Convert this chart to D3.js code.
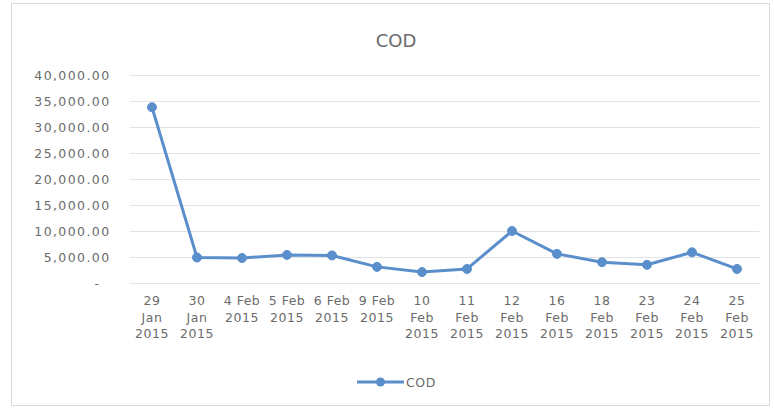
<!DOCTYPE html>
<html>
<head>
<meta charset="utf-8">
<script src="https://cdn.jsdelivr.net/npm/d3@7"></script>
<style>
  html, body { margin: 0; padding: 0; background: #fff; }
  svg { display: block; }
  text { font-family: "DejaVu Sans", sans-serif; fill: #6b6b6b; }
</style>
</head>
<body>
<svg id="chart" width="774" height="409"></svg>
<script>
// Daily COD readings
const categories = [
  "29 Jan 2015", "30 Jan 2015", "4 Feb 2015", "5 Feb 2015", "6 Feb 2015",
  "9 Feb 2015", "10 Feb 2015", "11 Feb 2015", "12 Feb 2015", "16 Feb 2015",
  "18 Feb 2015", "23 Feb 2015", "24 Feb 2015", "25 Feb 2015"
];
const codValues = [
  33800, 4900, 4800, 5400, 5300, 3100, 2100, 2700, 10000, 5600,
  4000, 3500, 5900, 2700
];
const yTicks = [0, 5000, 10000, 15000, 20000, 25000, 30000, 35000, 40000];
const seriesName = "COD";
const chartTitle = "COD";

const svg = d3.select("#chart");
const W = 774, H = 409;
const margin = { left: 129.5, right: 14.5, top: 75, bottom: 126 };
const blue = "#5A8FCC";

// chart frame
svg.append("rect")
  .attr("x", 11.5).attr("y", 3.5)
  .attr("width", 758).attr("height", 402)
  .attr("fill", "#fff").attr("stroke", "#d9d9d9");

const x = d3.scaleBand()
  .domain(categories)
  .range([margin.left, W - margin.right]);

const y = d3.scaleLinear()
  .domain([0, 40000])
  .range([H - margin.bottom, margin.top]);

// gridlines
svg.append("g")
  .selectAll("line")
  .data(yTicks)
  .join("line")
  .attr("x1", margin.left).attr("x2", W - margin.right)
  .attr("y1", d => Math.round(y(d)) + 0.5)
  .attr("y2", d => Math.round(y(d)) + 0.5)
  .attr("stroke", "#e3e3e3").attr("stroke-width", 1);

// y axis labels (accounting style: zero shown as a dash)
const fmt = d3.format(",.2f");
const yAxis = d3.axisLeft(y)
  .tickValues(yTicks)
  .tickSize(0)
  .tickPadding(0)
  .tickFormat(d => d === 0 ? "-" : fmt(d));
const gy = svg.append("g")
  .attr("transform", `translate(${margin.left - 19},0)`)
  .call(yAxis);
gy.select(".domain").remove();
gy.selectAll("text")
  .attr("font-size", 12.5)
  .attr("letter-spacing", 1.4)
  .attr("font-family", "DejaVu Sans")
  .attr("fill", "#707070")
  .attr("dx", d => d === 0 ? -10 : 0);

// x axis labels, wrapped into narrow lines
const xAxis = d3.axisBottom(x).tickSize(0).tickPadding(0);
const gx = svg.append("g")
  .attr("transform", `translate(0,${H - margin.bottom})`)
  .call(xAxis);
gx.select(".domain").remove();
gx.selectAll("text")
  .attr("font-size", 12.5)
  .attr("letter-spacing", 0.5)
  .attr("font-family", "DejaVu Sans")
  .attr("fill", "#707070")
  .each(function(d) {
    const t = d3.select(this);
    const words = d.split(" ");
    t.text(null);
    const lines = [];
    let cur = [];
    const probe = t.append("tspan");
    words.forEach(w => {
      const trial = cur.concat([w]).join(" ");
      probe.text(trial);
      if (cur.length && probe.node().getComputedTextLength() > 39) {
        lines.push(cur.join(" "));
        cur = [w];
      } else {
        cur.push(w);
      }
    });
    lines.push(cur.join(" "));
    probe.remove();
    t.attr("y", 0).attr("dy", null);
    lines.forEach((ln, i) => {
      t.append("tspan")
        .attr("x", 0)
        .attr("y", 22 + i * 16.5)
        .text(ln);
    });
  });

// series line
const line = d3.line()
  .x((d, i) => x(categories[i]) + x.bandwidth() / 2)
  .y(d => y(d));

svg.append("path")
  .datum(codValues)
  .attr("d", line)
  .attr("fill", "none")
  .attr("stroke", blue)
  .attr("stroke-width", 3)
  .attr("stroke-linejoin", "round");

svg.append("g")
  .selectAll("circle")
  .data(codValues)
  .join("circle")
  .attr("cx", (d, i) => x(categories[i]) + x.bandwidth() / 2)
  .attr("cy", d => y(d))
  .attr("r", 4.5)
  .attr("fill", blue)
  .attr("stroke", blue)
  .attr("stroke-width", 1);

// title
svg.append("text")
  .attr("x", 396).attr("y", 47)
  .attr("text-anchor", "middle")
  .attr("font-size", 18)
  .attr("fill", "#595959")
  .text(chartTitle);

// legend
const lg = svg.append("g");
lg.append("line")
  .attr("x1", 357).attr("x2", 404)
  .attr("y1", 382).attr("y2", 382)
  .attr("stroke", blue).attr("stroke-width", 3);
lg.append("circle")
  .attr("cx", 380.5).attr("cy", 382).attr("r", 4.5)
  .attr("fill", blue);
lg.append("text")
  .attr("x", 406).attr("y", 386.5)
  .attr("font-size", 12.5)
  .attr("letter-spacing", 0.6)
  .attr("fill", "#707070")
  .text(seriesName);
</script>
</body>
</html>
